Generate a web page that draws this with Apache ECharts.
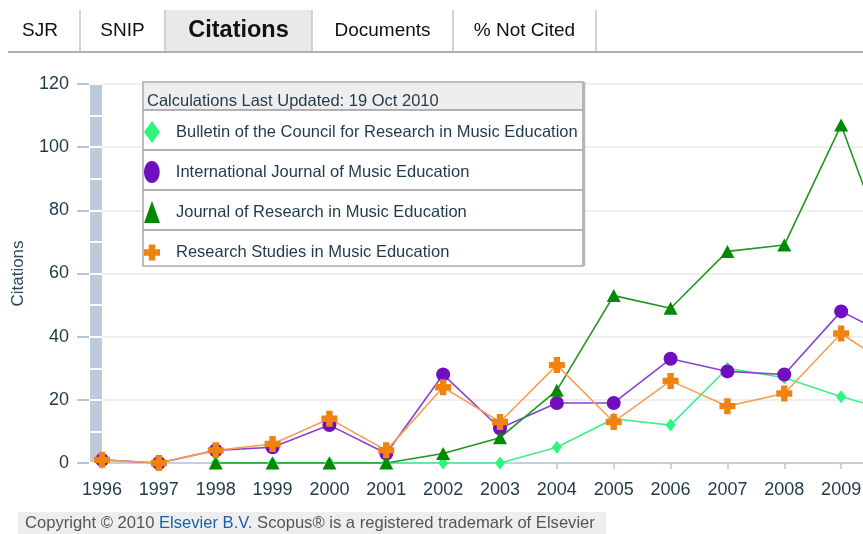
<!DOCTYPE html>
<html>
<head>
<meta charset="utf-8">
<script src="https://cdn.jsdelivr.net/npm/echarts@6/dist/echarts.min.js"></script>
<style>
  html, body { margin: 0; padding: 0; background: #fff; }
  #chart { width: 863px; height: 534px; }
</style>
</head>
<body>
<div id="chart"></div>
<script>
  // years on the x axis (2010 runs off the right edge in the original)
  var years = ['1996', '1997', '1998', '1999', '2000', '2001', '2002', '2003',
    '2004', '2005', '2006', '2007', '2008', '2009', '2010'];

  var seriesNames = [
    'Bulletin of the Council for Research in Music Education',
    'International Journal of Music Education',
    'Journal of Research in Music Education',
    'Research Studies in Music Education'
  ];

  var bulletin = [null, null, 0, 0, 0, 0, 0, 0, 5, 14, 12, 30, 27, 21, 16];
  var intlJournal = [1, 0, 4, 5, 12, 3, 28, 11, 19, 19, 33, 29, 28, 48, 39];
  var jrme = [null, null, 0, 0, 0, 0, 3, 8, 23, 53, 49, 67, 69, 107, 58];
  var researchStudies = [1, 0, 4, 6, 14, 4, 24, 13, 31, 13, 26, 18, 22, 41, 29];

  var tabLabels = ['SJR', 'SNIP', 'Citations', 'Documents', '% Not Cited'];

  var FONT = '"Liberation Sans", Arial, sans-serif';
  var TEXT = '#1f3a48';
  var AXIS_BLUE = '#b4c6da';

  var plusPath = 'path://M3,0H7V3H10V7H7V10H3V7H0V3H3Z';
  var ellipsePath = 'path://M5,0C7.8,0,10,3.1,10,7C10,10.9,7.8,14,5,14C2.2,14,0,10.9,0,7C0,3.1,2.2,0,5,0Z';

  var markColors = ['#2cf57e', '#6f0fc0', '#008a00', '#f0820f'];
  var lineColors = ['#3cf08a', '#8a40d2', '#1f961f', '#f2a055'];
  var legendIcons = ['diamond', ellipsePath, 'triangle', plusPath];
  // path icons keep their aspect in the legend, so the plus row is shorter
  var legendIconH = [22, 22, 22, 16];

  var chart = echarts.init(document.getElementById('chart'));

  // ---- tabs across the top
  var tabEdges = [8, 80, 165, 312, 453, 596];
  var graphics = [];
  graphics.push({
    type: 'rect', z: 1,
    shape: { x: tabEdges[2], y: 10, width: tabEdges[3] - tabEdges[2], height: 42 },
    style: { fill: '#e9e9e9' }
  });
  for (var i = 1; i < tabEdges.length; i++) {
    graphics.push({
      type: 'line', z: 2,
      shape: { x1: tabEdges[i], y1: 10, x2: tabEdges[i], y2: 52 },
      style: { stroke: '#c4c4c4', lineWidth: 1.5 }
    });
  }
  graphics.push({
    type: 'line', z: 2,
    shape: { x1: 8, y1: 52, x2: 863, y2: 52 },
    style: { stroke: '#b0b0b0', lineWidth: 2 }
  });
  tabLabels.forEach(function(lbl, k) {
    var active = lbl === 'Citations';
    graphics.push({
      type: 'text', z: 3,
      x: (tabEdges[k] + tabEdges[k + 1]) / 2 - (k === 0 ? 4 : 0), y: 31,
      style: {
        text: lbl, align: 'center', verticalAlign: 'middle',
        font: (active ? 'bold 23.5px ' : '19px ') + FONT,
        fill: '#111'
      }
    });
  });

  // ---- legend box with header and row rules
  var box = { x: 143, y: 82, w: 440, h: 184 };
  graphics.push({
    type: 'rect', z: 5,
    shape: { x: box.x, y: box.y, width: box.w, height: box.h },
    style: { fill: '#fff', stroke: '#a8a8a8', lineWidth: 1.5 }
  });
  graphics.push({
    type: 'rect', z: 6,
    shape: { x: box.x + 1, y: box.y + 1, width: box.w - 2, height: 27 },
    style: { fill: '#eeeeee' }
  });
  [110, 150, 190, 230].forEach(function(yy) {
    graphics.push({
      type: 'line', z: 6,
      shape: { x1: box.x, y1: yy, x2: box.x + box.w, y2: yy },
      style: { stroke: '#9a9a9a', lineWidth: 1.5 }
    });
  });
  graphics.push({
    type: 'line', z: 6,
    shape: { x1: box.x + box.w + 1, y1: box.y, x2: box.x + box.w + 1, y2: box.y + box.h },
    style: { stroke: '#b4b4b4', lineWidth: 2.5 }
  });
  graphics.push({
    type: 'text', z: 7, x: 147, y: 101,
    style: {
      text: 'Calculations Last Updated: 19 Oct 2010',
      verticalAlign: 'middle', font: '16.5px ' + FONT, fill: TEXT
    }
  });

  // ---- footer
  graphics.push({
    type: 'rect', z: 1,
    shape: { x: 18, y: 512, width: 588, height: 22 },
    style: { fill: '#eeeeee' }
  });
  graphics.push({
    type: 'text', z: 2, x: 25, y: 523,
    style: {
      text: '{g|Copyright © 2010 }{b|Elsevier B.V.}{g| Scopus® is a registered trademark of Elsevier}',
      verticalAlign: 'middle',
      rich: {
        g: { font: '16.6px ' + FONT, fill: '#555' },
        b: { font: '16.6px ' + FONT, fill: '#1a5faa' }
      }
    }
  });

  // one legend per row so each row sits exactly in its ruled cell
  var legends = seriesNames.map(function(name, k) {
    return {
      orient: 'vertical',
      left: 144, top: 132 + k * 40 - legendIconH[k] / 2,
      padding: 0,
      itemWidth: 16, itemHeight: 22,
      selectedMode: false,
      z: 20,
      textStyle: { fontSize: 16.5, color: TEXT, fontFamily: FONT, padding: [0, 0, 0, 11] },
      data: [{ name: name, icon: legendIcons[k], itemStyle: { color: markColors[k] } }]
    };
  });

  function lineSeries(k, data, symbol, size) {
    return {
      name: seriesNames[k],
      type: 'line',
      data: data,
      symbol: symbol,
      symbolSize: size,
      showAllSymbol: true,
      connectNulls: false,
      itemStyle: { color: markColors[k] },
      lineStyle: { color: lineColors[k], width: 1.6 },
      emphasis: { disabled: true }
    };
  }

  var option = {
    animation: false,
    backgroundColor: '#fff',
    textStyle: { fontFamily: FONT },
    grid: {
      left: 102, right: -35, top: 84, bottom: 71,
      outerBoundsMode: 'none'
    },
    legend: legends,
    xAxis: {
      type: 'category',
      data: years,
      boundaryGap: false,
      axisLine: { lineStyle: { color: AXIS_BLUE, width: 1.5 } },
      axisTick: { show: true, length: 6, lineStyle: { color: AXIS_BLUE, width: 1.5 } },
      axisLabel: { fontSize: 18, color: TEXT, margin: 18, fontFamily: FONT, interval: 0 },
      splitLine: { show: false }
    },
    yAxis: [
      {
        type: 'value', min: 0, max: 120, interval: 20,
        position: 'left', offset: 13,
        name: 'Citations', nameLocation: 'middle', nameGap: 62, nameRotate: 90,
        nameTextStyle: { fontSize: 17, color: '#2c4a58', fontFamily: FONT },
        axisLine: { show: false },
        axisTick: { show: true, length: 12, lineStyle: { color: AXIS_BLUE, width: 2 } },
        axisLabel: { fontSize: 18, color: TEXT, margin: 20, fontFamily: FONT },
        splitLine: { show: true, lineStyle: { color: '#eeeeee', width: 2 } }
      },
      {
        // the pale blue bar beside the value axis
        type: 'value', min: 0, max: 120, interval: 10,
        position: 'left', offset: 6,
        axisLine: { show: true, lineStyle: { color: '#bccbdc', width: 12, cap: 'butt' } },
        axisTick: { show: true, inside: true, length: 6, lineStyle: { color: '#fff', width: 2 } },
        axisLabel: { show: false },
        splitLine: { show: false }
      },
      {
        type: 'value', min: 0, max: 120, interval: 10,
        position: 'left', offset: 6,
        axisLine: { show: false },
        axisTick: { show: true, inside: false, length: 6, lineStyle: { color: '#fff', width: 2 } },
        axisLabel: { show: false },
        splitLine: { show: false }
      }
    ],
    series: [
      lineSeries(0, bulletin, 'diamond', [10, 13]),
      lineSeries(1, intlJournal, 'circle', 14),
      lineSeries(2, jrme, 'triangle', [14, 13]),
      lineSeries(3, researchStudies, plusPath, 16)
    ],
    graphic: { elements: graphics }
  };

  chart.setOption(option);
</script>
</body>
</html>
